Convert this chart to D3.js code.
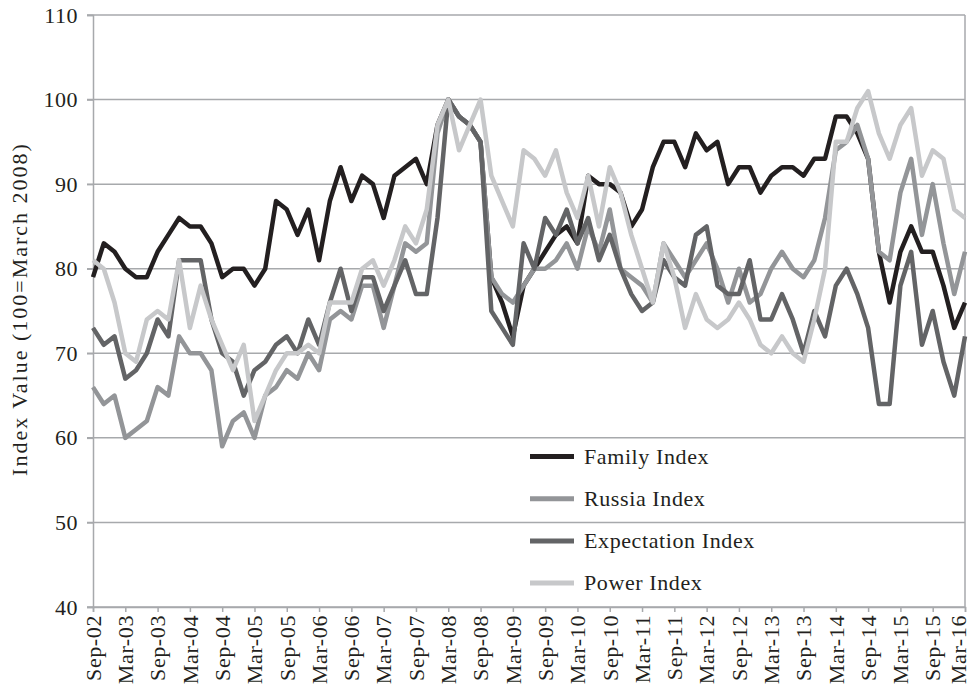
<!DOCTYPE html>
<html><head><meta charset="utf-8">
<script src="https://cdn.jsdelivr.net/npm/d3@7"></script>
<style>body{margin:0;background:#fff}svg{display:block}</style>
</head><body><svg id="chart" width="971" height="684"></svg>
<script>
const tickLabels = ["Sep-02","Mar-03","Sep-03","Mar-04","Sep-04","Mar-05","Sep-05","Mar-06","Sep-06","Mar-07","Sep-07","Mar-08","Sep-08","Mar-09","Sep-09","Mar-10","Sep-10","Mar-11","Sep-11","Mar-12","Sep-12","Mar-13","Sep-13","Mar-14","Sep-14","Mar-15","Sep-15","Mar-16"];
const yTicks = [40,50,60,70,80,90,100,110];
const seriesNames = ["Family Index","Russia Index","Expectation Index","Power Index"];

const family = [79,83,82,80,79,79,82,84,86,85,85,83,79,80,80,78,80,88,87,84,87,81,88,92,88,91,90,86,91,92,93,90,97,100,98,97,95,79,76,72,78,80,82,84,85,83,91,90,90,89,85,87,92,95,95,92,96,94,95,90,92,92,89,91,92,92,91,93,93,98,98,96,93,82,76,82,85,82,82,78,73,76];
const russia = [66,64,65,60,61,62,66,65,72,70,70,68,59,62,63,60,65,66,68,67,70,68,74,75,74,78,78,73,78,83,82,83,96,100,98,97,95,79,77,76,78,80,80,81,83,80,85,82,87,80,79,78,76,83,81,79,81,83,80,76,80,76,77,80,82,80,79,81,86,94,95,97,93,82,81,89,93,84,90,83,77,82];
const expectation = [73,71,72,67,68,70,74,72,81,81,81,74,70,69,65,68,69,71,72,70,74,71,76,80,75,79,79,75,78,81,77,77,86,100,98,97,95,75,73,71,83,80,86,84,87,83,86,81,84,80,77,75,76,81,79,78,84,85,78,77,77,81,74,74,77,74,70,75,72,78,80,77,73,64,64,78,82,71,75,69,65,72];
const power = [81,80,76,70,69,74,75,74,81,73,78,74,71,68,71,62,65,68,70,70,71,70,76,76,76,80,81,78,81,85,83,87,97,100,94,97,100,91,88,85,94,93,91,94,89,86,91,85,92,89,84,80,76,83,79,73,77,74,73,74,76,74,71,70,72,70,69,74,80,95,95,99,101,96,93,97,99,91,94,93,87,86];

const seriesData = [family, russia, expectation, power];
const colors = ["#231f20","#939598","#636466","#c7c8ca"];

const svg = d3.select("#chart");
const mLeft = 93, mRight = 965, mTop = 15, mBottom = 607;
const n = family.length;
const x = d3.scaleLinear().domain([0, n - 1]).range([mLeft, mRight]);
const y = d3.scaleLinear().domain([40, 110]).range([mBottom, mTop]);
const font = "'Liberation Serif', 'Times New Roman', serif";
const textColor = "#231f20";
const gridColor = "#a7a9ac";

// gridlines
svg.append("g").selectAll("line").data(yTicks).join("line")
  .attr("x1", mLeft - 6).attr("x2", mRight)
  .attr("y1", d => y(d)).attr("y2", d => y(d))
  .attr("stroke", gridColor).attr("stroke-width", 1.5);

// right border
svg.append("line").attr("x1", mRight).attr("x2", mRight).attr("y1", mTop).attr("y2", mBottom)
  .attr("stroke", gridColor).attr("stroke-width", 1.5);

// y axis
const yAxis = svg.append("g").attr("transform", `translate(${mLeft},0)`)
  .call(d3.axisLeft(y).tickValues(yTicks).tickSize(6).tickPadding(9).tickFormat(d3.format("d")));
yAxis.select(".domain").attr("stroke", gridColor).attr("stroke-width", 1.5);
yAxis.selectAll(".tick line").attr("stroke", gridColor).attr("stroke-width", 1.5);
yAxis.selectAll(".tick text").attr("font-family", font).attr("font-size", 22)
  .attr("letter-spacing", "0.5px")
  .attr("fill", textColor).style("font-variant-numeric", "oldstyle-nums").attr("dy", "0.32em");

// x axis
const xAxis = svg.append("g").attr("transform", `translate(0,${mBottom})`)
  .call(d3.axisBottom(x).tickValues(d3.range(0, n, 3)).tickSize(5).tickFormat((d, i) => tickLabels[i]));
xAxis.select(".domain").attr("stroke", gridColor).attr("stroke-width", 1.5);
xAxis.selectAll(".tick line").attr("stroke", gridColor).attr("stroke-width", 1.5);
xAxis.selectAll(".tick text").attr("font-family", font).attr("font-size", 22).attr("fill", textColor)
  .attr("letter-spacing", "0.6px")
  .style("font-variant-numeric", "oldstyle-nums")
  .attr("text-anchor", "end").attr("transform", "rotate(-90)")
  .attr("x", -8).attr("y", 0)
  .attr("dy", (d, i, nodes) => i === nodes.length - 1 ? "0em" : "0.33em");

// y title
svg.append("text").attr("transform", `translate(27,${(mTop + mBottom) / 2 - 2}) rotate(-90)`)
  .attr("text-anchor", "middle").attr("font-family", font).attr("font-size", 22)
  .attr("letter-spacing", "2px")
  .style("font-variant-numeric", "oldstyle-nums")
  .attr("fill", textColor).text("Index Value (100=March 2008)");

// lines
const line = d3.line().x((d, i) => x(i)).y(d => y(d));
seriesData.forEach((s, k) => {
  svg.append("path").datum(s).attr("d", line).attr("fill", "none")
    .attr("stroke", colors[k]).attr("stroke-width", 4.5)
    .attr("stroke-linejoin", "round").attr("stroke-linecap", "butt");
});

// legend
const leg = svg.append("g");
seriesNames.forEach((name, k) => {
  const ly = 456.5 + k * 42.2;
  leg.append("line").attr("x1", 530).attr("x2", 574).attr("y1", ly).attr("y2", ly)
    .attr("stroke", colors[k]).attr("stroke-width", 5);
  leg.append("text").attr("x", 584).attr("y", ly).attr("dy", "0.32em")
    .attr("font-family", font).attr("font-size", 22).attr("letter-spacing", "0.6px")
    .attr("fill", textColor).text(name);
});
</script>
</body></html>
